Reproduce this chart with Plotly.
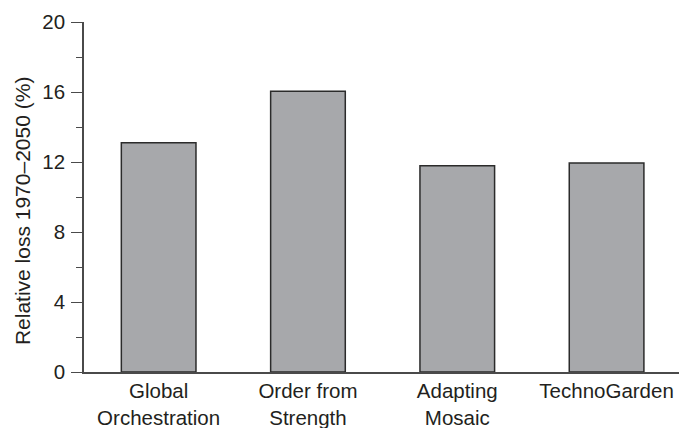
import plotly.graph_objects as go

categories = ["Global<br>Orchestration", "Order from<br>Strength", "Adapting<br>Mosaic", "TechnoGarden"]
values = [13.1, 16.05, 11.78, 11.95]
y_ticks = [0, 4, 8, 12, 16, 20]

FONT = "Liberation Sans, Arial, Helvetica, sans-serif"
TXT = "#231f20"

fig = go.Figure(go.Bar(
    x=list(range(len(categories))), y=values, width=0.5,
    marker=dict(color="#a7a8ab", line=dict(color="#2b2b2b", width=1.5)),
    hoverinfo="skip",
))

fig.update_layout(
    width=679, height=428,
    margin=dict(l=84, r=0, t=22, b=56, autoexpand=False),
    plot_bgcolor="white", paper_bgcolor="white",
    showlegend=False,
    font=dict(family=FONT, size=20, color=TXT),
)
fig.update_xaxes(
    range=[-0.5, 3.485], tickvals=list(range(len(categories))), ticktext=categories,
    showline=True, linecolor="#4a4a4a", linewidth=1.5, automargin=False,
    ticks="", showgrid=False, zeroline=False, ticklabelstandoff=0,
    tickfont=dict(family=FONT, size=20.5, color=TXT),
)
fig.update_yaxes(
    range=[0, 20], tickvals=y_ticks, ticktext=[str(v) for v in y_ticks],
    showline=True, linecolor="#4a4a4a", linewidth=1.5, automargin=False,
    ticks="outside", ticklen=11, tickcolor="#4a4a4a", tickwidth=1.2,
    minor=dict(dtick=2, ticks="outside", ticklen=6, tickcolor="#4a4a4a", tickwidth=1.2, showgrid=False),
    showgrid=False, zeroline=False, ticklabelstandoff=2,
    tickfont=dict(family=FONT, size=20.5, color=TXT),
)
fig.add_annotation(
    text="Relative loss 1970–2050 (%)", textangle=-90,
    xref="paper", yref="paper", x=-0.104, y=0.46, xanchor="center", yanchor="middle",
    showarrow=False, font=dict(family=FONT, size=21, color=TXT),
)
fig.write_html("out.html", config={"displayModeBar": False},
               post_script="document.body.style.margin='0';document.body.style.overflow='hidden';")
